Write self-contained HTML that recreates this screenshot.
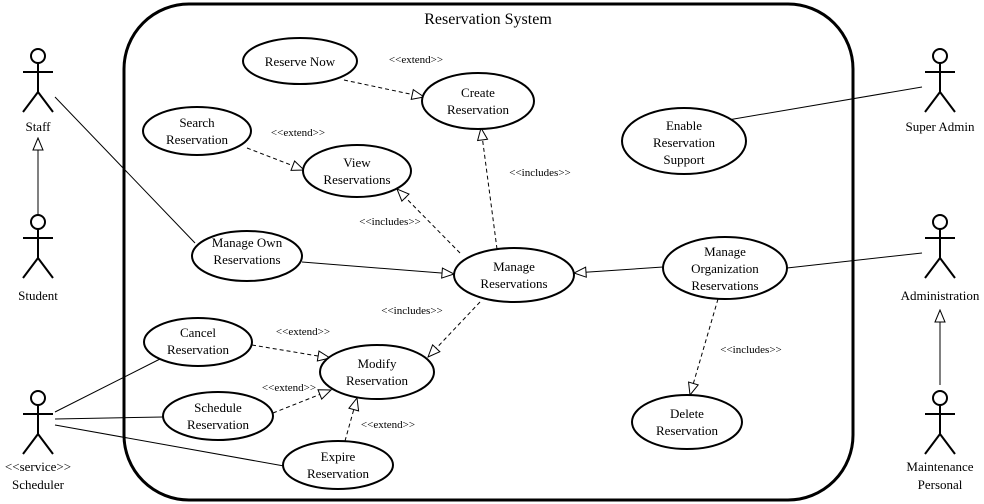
<!DOCTYPE html>
<html><head><style>body{margin:0;background:#fff}svg{display:block}text{font-family:"Liberation Serif",serif;fill:#000}</style></head><body>
<svg width="984" height="504" viewBox="0 0 984 504" xmlns="http://www.w3.org/2000/svg">
<defs>
<marker id="t" viewBox="0 0 14 12" refX="13" refY="6" markerWidth="14" markerHeight="12" markerUnits="userSpaceOnUse" orient="auto"><path d="M1,1 L13,6 L1,11 Z" fill="#fff" stroke="#000" stroke-width="1"/></marker>
</defs>
<rect x="124" y="4" width="729" height="496" rx="65" fill="none" stroke="#000" stroke-width="3"/>
<text x="488" y="24" font-size="16" text-anchor="middle">Reservation System</text>
<g stroke="#000" stroke-width="1" fill="none">
<line x1="55" y1="97" x2="195" y2="243"/>
<line x1="302" y1="262" x2="454" y2="274" marker-end="url(#t)"/>
<line x1="663" y1="267" x2="574" y2="273" marker-end="url(#t)"/>
<line x1="787" y1="268" x2="922" y2="253"/>
<line x1="728" y1="120" x2="922" y2="87"/>
<line x1="55" y1="412" x2="160" y2="359"/>
<line x1="55" y1="419" x2="163" y2="417"/>
<line x1="55" y1="425" x2="284" y2="466"/>
<line x1="38" y1="215" x2="38" y2="138" marker-end="url(#t)"/>
<line x1="940" y1="385" x2="940" y2="310" marker-end="url(#t)"/>
<g stroke-dasharray="4,3">
<line x1="344" y1="80" x2="424" y2="97" marker-end="url(#t)"/>
<line x1="247" y1="148" x2="304" y2="170" marker-end="url(#t)"/>
<line x1="497" y1="249" x2="481" y2="128" marker-end="url(#t)"/>
<line x1="460" y1="253" x2="397" y2="189" marker-end="url(#t)"/>
<line x1="480" y1="302" x2="428" y2="357" marker-end="url(#t)"/>
<line x1="718" y1="299" x2="690" y2="395" marker-end="url(#t)"/>
<line x1="252" y1="345" x2="330" y2="358" marker-end="url(#t)"/>
<line x1="273" y1="413" x2="331" y2="390" marker-end="url(#t)"/>
<line x1="345" y1="441" x2="357" y2="398" marker-end="url(#t)"/>
</g>
</g>
<g fill="#fff" stroke="#000" stroke-width="2">
<ellipse cx="300" cy="61" rx="57" ry="23"/>
<ellipse cx="478" cy="101" rx="56" ry="28"/>
<ellipse cx="197" cy="131" rx="54" ry="24"/>
<ellipse cx="357" cy="171" rx="54" ry="26"/>
<ellipse cx="684" cy="141" rx="62" ry="33"/>
<ellipse cx="247" cy="256" rx="55" ry="25"/>
<ellipse cx="514" cy="275" rx="60" ry="27"/>
<ellipse cx="725" cy="268" rx="62" ry="31"/>
<ellipse cx="198" cy="342" rx="54" ry="24"/>
<ellipse cx="377" cy="372" rx="57" ry="27"/>
<ellipse cx="218" cy="416" rx="55" ry="24"/>
<ellipse cx="338" cy="465" rx="55" ry="24"/>
<ellipse cx="687" cy="422" rx="55" ry="27"/>
</g>
<g font-size="13" text-anchor="middle">
<text x="300" y="66">Reserve Now</text>
<text x="478" y="97">Create</text><text x="478" y="114">Reservation</text>
<text x="197" y="127">Search</text><text x="197" y="144">Reservation</text>
<text x="357" y="167">View</text><text x="357" y="184">Reservations</text>
<text x="684" y="130">Enable</text><text x="684" y="147">Reservation</text><text x="684" y="164">Support</text>
<text x="247" y="247">Manage Own</text><text x="247" y="264">Reservations</text>
<text x="514" y="271">Manage</text><text x="514" y="288">Reservations</text>
<text x="725" y="256">Manage</text><text x="725" y="273">Organization</text><text x="725" y="290">Reservations</text>
<text x="198" y="337">Cancel</text><text x="198" y="354">Reservation</text>
<text x="377" y="368">Modify</text><text x="377" y="385">Reservation</text>
<text x="218" y="412">Schedule</text><text x="218" y="429">Reservation</text>
<text x="338" y="461">Expire</text><text x="338" y="478">Reservation</text>
<text x="687" y="418">Delete</text><text x="687" y="435">Reservation</text>
<text x="38" y="131">Staff</text>
<text x="38" y="300">Student</text>
<text x="38" y="471">&lt;&lt;service&gt;&gt;</text><text x="38" y="489">Scheduler</text>
<text x="940" y="131">Super Admin</text>
<text x="940" y="300">Administration</text>
<text x="940" y="471">Maintenance</text><text x="940" y="489">Personal</text>
</g>
<g font-size="11" text-anchor="middle">
<text x="416" y="63">&lt;&lt;extend&gt;&gt;</text>
<text x="298" y="136">&lt;&lt;extend&gt;&gt;</text>
<text x="540" y="176">&lt;&lt;includes&gt;&gt;</text>
<text x="390" y="225">&lt;&lt;includes&gt;&gt;</text>
<text x="412" y="314">&lt;&lt;includes&gt;&gt;</text>
<text x="751" y="353">&lt;&lt;includes&gt;&gt;</text>
<text x="303" y="335">&lt;&lt;extend&gt;&gt;</text>
<text x="289" y="391">&lt;&lt;extend&gt;&gt;</text>
<text x="388" y="428">&lt;&lt;extend&gt;&gt;</text>
</g>
<g stroke="#000" stroke-width="2" fill="#fff">
<g transform="translate(38,0)"><circle cx="0" cy="56" r="7"/><path d="M0,63 V92 M-15,72 H15 M0,92 L-15,112 M0,92 L15,112" fill="none"/></g>
<g transform="translate(38,166)"><circle cx="0" cy="56" r="7"/><path d="M0,63 V92 M-15,72 H15 M0,92 L-15,112 M0,92 L15,112" fill="none"/></g>
<g transform="translate(38,342)"><circle cx="0" cy="56" r="7"/><path d="M0,63 V92 M-15,72 H15 M0,92 L-15,112 M0,92 L15,112" fill="none"/></g>
<g transform="translate(940,0)"><circle cx="0" cy="56" r="7"/><path d="M0,63 V92 M-15,72 H15 M0,92 L-15,112 M0,92 L15,112" fill="none"/></g>
<g transform="translate(940,166)"><circle cx="0" cy="56" r="7"/><path d="M0,63 V92 M-15,72 H15 M0,92 L-15,112 M0,92 L15,112" fill="none"/></g>
<g transform="translate(940,342)"><circle cx="0" cy="56" r="7"/><path d="M0,63 V92 M-15,72 H15 M0,92 L-15,112 M0,92 L15,112" fill="none"/></g>
</g>
</svg>
</body></html>
